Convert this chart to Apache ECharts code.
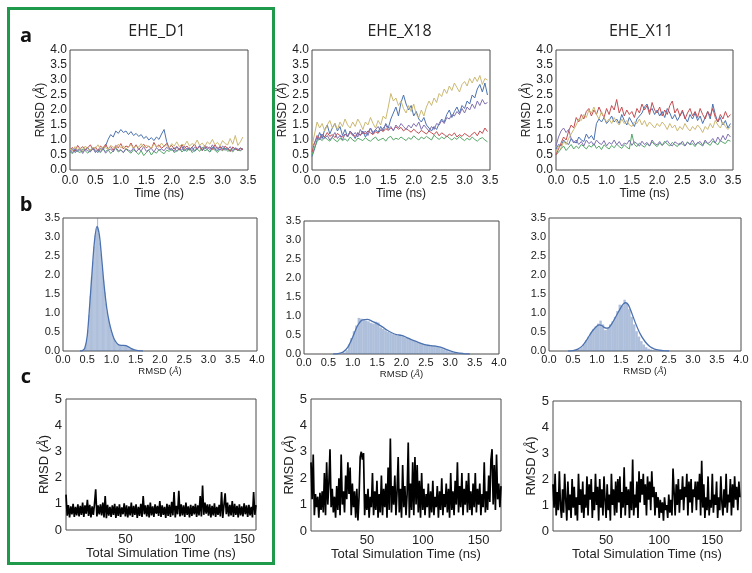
<!DOCTYPE html>
<html><head><meta charset="utf-8">
<script src="https://cdn.jsdelivr.net/npm/echarts@6/dist/echarts.min.js"></script>
<style>html,body{margin:0;padding:0;background:#fff}#c{width:752px;height:573px}</style>
</head><body><div id="c"></div>
<script>
// ---------- DATA ----------
const panelTitles = ['EHE_D1', 'EHE_X18', 'EHE_X11'];
const rowLetters = ['a', 'b', 'c'];
const cXTickLabels = [50, 100, 150];

// Row a: RMSD vs time (ns), five runs per system
const aTimes = [0,0.05,0.1,0.15,0.2,0.25,0.3,0.35,0.4,0.45,0.5,0.55,0.6,0.65,0.7,0.75,0.8,0.85,0.9,0.95,1,1.05,1.1,1.15,1.2,1.25,1.3,1.35,1.4,1.45,1.5,1.55,1.6,1.65,1.7,1.75,1.8,1.85,1.9,1.95,2,2.05,2.1,2.15,2.2,2.25,2.3,2.35,2.4,2.45,2.5,2.55,2.6,2.65,2.7,2.75,2.8,2.85,2.9,2.95,3,3.05,3.1,3.15,3.2,3.25,3.3,3.35,3.4,3.45];

const d1Blue = [0.62,0.70,0.58,0.66,0.72,0.60,0.68,0.74,0.63,0.70,
0.66,0.58,0.72,0.68,0.80,1.02,1.18,1.10,1.30,1.22,
1.35,1.25,1.30,1.18,1.28,1.15,1.22,1.12,1.18,1.05,
1.12,1.00,1.08,0.98,1.10,1.02,1.20,1.35,0.95,0.72,
0.66,0.74,0.62,0.70,0.78,0.64,0.72,0.66,0.76,0.62,
0.70,0.80,0.66,0.74,0.68,0.60,0.76,0.70,0.64,0.78,
0.72,0.66,0.74,0.62,0.76,0.70,0.66,0.74,0.68];
const d1Green = [0.60,0.55,0.68,0.62,0.58,0.70,0.64,0.56,0.66,0.72,
0.60,0.65,0.58,0.70,0.62,0.68,0.55,0.64,0.72,0.60,
0.66,0.58,0.70,0.62,0.56,0.68,0.60,0.52,0.64,0.48,
0.58,0.66,0.50,0.62,0.56,0.68,0.60,0.54,0.66,0.62,
0.70,0.58,0.64,0.72,0.60,0.68,0.62,0.74,0.58,0.66,
0.70,0.62,0.76,0.64,0.68,0.60,0.72,0.66,0.58,0.70,
0.64,0.74,0.62,0.68,0.60,0.72,0.66,0.64,0.70];
const d1Red = [0.68,0.75,0.62,0.82,0.70,0.78,0.66,0.74,0.84,0.68,
0.76,0.64,0.80,0.72,0.86,0.70,0.78,0.66,0.82,0.74,
0.88,0.70,0.80,0.76,0.90,0.72,0.84,0.68,0.78,0.86,
0.74,0.80,0.70,0.92,0.76,0.84,0.72,0.80,0.88,0.74,
0.82,0.70,0.78,0.66,0.84,0.72,0.80,0.68,0.76,0.86,
0.70,0.78,0.64,0.82,0.72,0.76,0.68,0.84,0.70,0.78,
0.66,0.80,0.72,0.62,0.76,0.70,0.66,0.72,0.68];
const d1Purple = [0.65,0.58,0.72,0.62,0.68,0.55,0.70,0.64,0.60,0.74,
0.58,0.68,0.62,0.72,0.56,0.66,0.70,0.60,0.76,0.64,
0.68,0.58,0.72,0.66,0.62,0.74,0.60,0.70,0.64,0.78,
0.62,0.68,0.72,0.60,0.74,0.66,0.70,0.64,0.76,0.68,
0.72,0.62,0.78,0.70,0.66,0.80,0.68,0.74,0.64,0.76,
0.70,0.82,0.66,0.74,0.78,0.68,0.84,0.72,0.76,0.66,
0.80,0.72,0.68,0.78,0.64,0.74,0.70,0.66,0.72];
const d1Yellow = [0.70,0.64,0.78,0.68,0.74,0.62,0.80,0.70,0.66,0.76,
0.72,0.84,0.68,0.78,0.74,0.70,0.82,0.76,0.72,0.86,
0.74,0.80,0.70,0.78,0.84,0.72,0.80,0.76,0.88,0.74,
0.82,0.78,0.72,0.86,0.80,0.76,0.90,0.78,0.84,0.74,
0.88,0.80,0.94,0.78,0.86,0.82,0.96,0.80,0.88,0.84,
1.00,0.82,0.90,0.78,0.94,0.86,1.02,0.84,0.92,0.80,
0.98,0.88,0.84,1.05,0.86,1.15,0.82,0.94,1.10];

const x18Blue = [0.45,0.70,1.00,1.25,1.05,1.35,1.50,1.20,1.40,1.55,
1.30,1.45,1.15,1.35,1.10,1.30,1.20,1.05,1.25,1.15,
1.30,1.10,1.25,1.40,1.20,1.35,1.25,1.45,1.30,1.55,
1.40,1.70,1.90,2.10,1.80,2.25,2.50,2.20,2.00,2.15,
1.80,1.95,1.70,1.60,1.75,1.50,1.40,1.30,1.45,1.35,
1.55,1.70,1.60,1.85,2.00,1.75,1.95,2.10,1.90,2.15,
2.05,2.30,2.20,2.50,2.40,2.70,2.85,2.60,2.90,2.50];
const x18Green = [0.50,0.75,0.95,1.05,0.98,1.10,1.02,0.96,1.08,1.00,
0.94,1.06,0.98,1.04,0.96,1.10,1.00,0.95,1.06,1.02,
0.98,1.08,1.00,0.96,1.04,1.10,0.98,1.02,1.06,0.96,
1.08,1.12,1.00,1.06,1.02,1.10,1.04,0.98,1.08,1.02,
1.14,1.06,1.00,1.10,1.04,1.12,1.06,1.00,1.16,1.08,
1.02,1.10,1.04,1.14,1.06,1.00,1.08,1.02,1.12,1.04,
0.98,1.06,1.00,1.10,1.02,0.96,1.04,1.08,1.00,0.94];
const x18Red = [0.60,0.90,1.15,1.05,1.20,1.10,1.25,1.12,1.18,1.08,
1.22,1.15,1.10,1.20,1.14,1.24,1.18,1.12,1.22,1.16,
1.26,1.20,1.30,1.24,1.18,1.28,1.22,1.34,1.28,1.38,
1.32,1.40,1.34,1.44,1.36,1.42,1.30,1.38,1.32,1.26,
1.36,1.28,1.22,1.32,1.26,1.20,1.30,1.24,1.18,1.28,
1.14,1.24,1.18,1.10,1.20,1.14,1.24,1.10,1.18,1.12,
1.22,1.16,1.10,1.20,1.26,1.14,1.30,1.22,1.40,1.28];
const x18Purple = [0.80,0.90,1.10,1.00,1.20,1.05,1.15,1.00,1.10,1.25,
1.05,1.15,1.00,1.20,1.10,1.30,1.15,1.25,1.10,1.35,
1.20,1.30,1.15,1.40,1.25,1.35,1.45,1.30,1.40,1.50,
1.35,1.45,1.30,1.50,1.40,1.55,1.45,1.35,1.50,1.40,
1.55,1.45,1.60,1.35,1.50,1.40,1.30,1.45,1.35,1.55,
1.50,1.65,1.55,1.75,1.70,1.85,1.80,1.95,1.85,2.05,
1.90,2.10,2.00,2.20,2.05,2.30,2.15,2.35,2.20,2.25];
const x18Yellow = [0.80,1.20,1.60,1.40,1.55,1.30,1.50,1.65,1.40,1.55,
1.35,1.60,1.45,1.70,1.50,1.40,1.60,1.45,1.70,1.55,
1.35,1.60,1.50,1.75,1.55,1.40,1.65,1.50,1.80,1.70,
2.10,2.55,2.30,2.40,2.15,2.30,2.05,1.90,2.15,1.95,
2.20,1.85,1.75,2.00,1.80,2.10,2.30,2.15,2.40,2.25,
2.55,2.45,2.70,2.55,2.80,2.65,2.90,2.75,2.60,2.85,
2.95,2.80,3.05,2.90,3.10,2.95,3.15,2.85,3.05,3.00];

const x11Blue = [0.70,0.85,0.80,1.00,0.90,0.85,1.05,0.95,0.90,1.10,
1.00,0.95,1.20,1.05,1.15,1.00,1.55,1.70,1.60,1.75,
1.55,1.65,1.80,1.60,1.70,1.55,1.85,1.65,1.50,1.75,
1.60,1.45,1.70,1.80,1.90,2.10,2.20,1.95,2.05,1.85,
2.00,1.80,1.95,1.75,2.05,1.90,1.70,1.85,1.65,1.80,
1.95,1.75,1.60,1.85,1.70,1.90,1.65,1.80,1.55,1.75,
1.95,1.70,2.20,1.85,1.60,1.75,1.50,1.65,1.40,1.55];
const x11Green = [0.50,0.60,0.70,0.80,0.65,0.75,0.85,0.70,0.80,0.72,
0.85,0.78,0.70,0.82,0.76,0.88,0.72,0.80,0.68,0.84,
0.76,0.70,0.82,0.74,0.86,0.78,0.72,0.84,0.76,0.70,
1.20,0.85,0.78,0.90,0.82,0.76,0.88,0.80,0.94,0.84,
0.78,0.90,0.82,0.96,0.86,0.80,0.92,0.84,0.78,0.90,
0.86,0.80,0.94,0.84,0.88,0.78,0.92,0.86,0.80,0.94,
0.88,0.82,0.96,0.90,0.84,0.98,0.92,0.88,1.00,0.96];
const x11Red = [0.50,0.70,0.90,1.10,1.00,1.30,1.50,1.40,1.75,1.60,
1.85,1.70,1.95,2.05,1.80,2.00,1.85,2.10,1.90,1.75,
2.05,1.85,2.15,2.00,2.35,1.90,2.10,1.80,2.00,1.85,
1.95,1.75,2.05,1.90,2.20,2.00,2.15,1.85,2.25,2.00,
1.90,2.10,1.80,2.00,1.85,2.15,2.30,1.90,2.05,1.80,
2.00,1.70,1.90,2.05,1.80,1.95,1.75,2.05,1.85,1.70,
1.95,1.80,2.05,1.75,1.60,1.85,1.70,1.95,1.75,1.85];
const x11Purple = [0.80,1.10,1.30,1.40,1.25,1.35,1.05,0.90,1.00,0.85,
0.95,0.80,1.00,0.88,0.95,0.82,1.00,0.90,0.85,0.98,
0.80,0.92,0.86,1.00,0.84,0.95,0.80,0.90,0.86,1.00,
0.82,0.94,0.88,0.80,0.96,0.85,0.92,0.80,1.00,0.88,
0.84,0.95,0.82,0.90,0.98,0.86,0.80,0.94,0.88,0.84,
0.96,0.80,0.92,0.86,1.00,0.84,0.90,0.95,0.82,1.00,
0.88,0.94,1.05,0.90,1.10,0.96,1.15,1.00,1.20,1.10];
const x11Yellow = [0.60,0.80,0.70,0.95,0.85,1.05,1.20,1.35,1.50,1.70,
1.65,1.85,1.75,2.00,1.90,2.10,1.85,1.70,1.95,1.75,
1.60,1.70,1.55,1.75,1.60,1.50,1.70,1.55,1.65,1.50,
1.45,1.60,1.55,1.70,1.50,1.65,1.45,1.60,1.50,1.40,
1.55,1.45,1.60,1.50,1.35,1.55,1.40,1.50,1.30,1.45,
1.35,1.55,1.40,1.30,1.45,1.35,1.50,1.40,1.25,1.45,
1.35,1.55,1.40,1.65,1.50,1.40,1.60,1.45,1.35,1.45];

// Row b: RMSD distributions (histogram bins + KDE)
const b1BinCenters = [0.4125,0.4375,0.4625,0.4875,0.5125,0.5375,0.5625,0.5875,0.6125,0.6375,0.6625,0.6875,0.7125,0.7375,0.7625,0.7875,0.8125,0.8375,0.8625,0.8875,0.9125,0.9375,0.9625,0.9875,1.0125,1.0375,1.0625,1.0875,1.1125,1.1375,1.1625,1.1875,1.2125,1.2375,1.2625,1.2875,1.3125,1.3375,1.3625,1.3875,1.4125,1.4375,1.4625,1.4875,1.5125];
const b1Density = [0.02,0.05,0.12,0.30,0.55,0.95,1.45,1.95,2.35,2.75,3.05,3.25,3.50,3.10,2.85,2.55,2.20,1.85,1.55,1.25,1.02,0.85,0.70,0.55,0.45,0.36,0.28,0.22,0.18,0.16,0.15,0.16,0.15,0.16,0.15,0.14,0.13,0.11,0.09,0.07,0.05,0.04,0.03,0.02,0.01];
const b1KdeX = [0.35,0.40,0.45,0.50,0.55,0.60,0.65,0.70,0.75,0.80,0.85,0.90,0.95,1.00,1.05,1.10,1.15,1.20,1.25,1.30,1.35,1.40,1.45,1.50,1.55,1.60,1.65];
const b1KdeY = [0,0.01,0.08,0.40,1.20,2.10,2.90,3.28,3.05,2.40,1.70,1.15,0.78,0.52,0.33,0.22,0.16,0.15,0.15,0.14,0.11,0.07,0.04,0.02,0.01,0.005,0];

const b2BinCenters = [0.825,0.875,0.925,0.975,1.025,1.075,1.125,1.175,1.225,1.275,1.325,1.375,1.425,1.475,1.525,1.575,1.625,1.675,1.725,1.775,1.825,1.875,1.925,1.975,2.025,2.075,2.125,2.175,2.225,2.275,2.325,2.375,2.425,2.475,2.525,2.575,2.625,2.675,2.725,2.775,2.825,2.875,2.925,2.975,3.025,3.075,3.125,3.175];
const b2Density = [0.04,0.10,0.25,0.42,0.60,0.75,0.95,0.93,0.90,0.88,0.86,0.82,0.80,0.85,0.83,0.70,0.66,0.62,0.58,0.55,0.52,0.50,0.48,0.50,0.47,0.44,0.42,0.40,0.36,0.34,0.31,0.29,0.27,0.25,0.23,0.22,0.21,0.22,0.20,0.18,0.15,0.12,0.10,0.07,0.05,0.03,0.02,0.01];
const b2KdeX = [0.6,0.7,0.8,0.9,1.0,1.1,1.2,1.3,1.4,1.5,1.6,1.7,1.8,1.9,2.0,2.1,2.2,2.3,2.4,2.5,2.6,2.7,2.8,2.9,3.0,3.1,3.2,3.3,3.4];
const b2KdeY = [0,0.01,0.05,0.18,0.45,0.75,0.90,0.91,0.86,0.80,0.72,0.63,0.56,0.51,0.49,0.44,0.38,0.33,0.28,0.24,0.22,0.21,0.18,0.13,0.08,0.04,0.02,0.005,0];

const b3BinCenters = [0.575,0.625,0.675,0.725,0.775,0.825,0.875,0.925,0.975,1.025,1.075,1.125,1.175,1.225,1.275,1.325,1.375,1.425,1.475,1.525,1.575,1.625,1.675,1.725,1.775,1.825,1.875,1.925,1.975,2.025,2.075,2.125,2.175,2.225,2.275,2.325];
const b3Density = [0.02,0.05,0.10,0.18,0.28,0.38,0.48,0.58,0.65,0.72,0.80,0.70,0.55,0.62,0.70,0.78,0.90,1.05,1.22,1.20,1.35,1.25,1.10,0.90,0.70,0.52,0.38,0.26,0.17,0.10,0.06,0.04,0.02,0.01,0.01,0.005];
const b3KdeX = [0.4,0.5,0.6,0.7,0.8,0.9,1.0,1.05,1.1,1.15,1.2,1.25,1.3,1.4,1.5,1.55,1.6,1.65,1.7,1.8,1.9,2.0,2.1,2.2,2.3,2.4,2.5];
const b3KdeY = [0,0.01,0.05,0.14,0.32,0.52,0.66,0.69,0.67,0.62,0.60,0.62,0.70,0.92,1.15,1.24,1.27,1.22,1.08,0.74,0.45,0.25,0.12,0.05,0.02,0.005,0];

// Row c: RMSD over the concatenated simulation (ns)
const cTimes = [0,1,2,3,4,5,6,7,8,9,10,11,12,13,14,15,16,17,18,19,20,21,22,23,24,25,26,27,28,29,30,31,32,33,34,35,36,37,38,39,40,41,42,43,44,45,46,47,48,49,50,51,52,53,54,55,56,57,58,59,60,61,62,63,64,65,66,67,68,69,70,71,72,73,74,75,76,77,78,79,80,81,82,83,84,85,86,87,88,89,90,91,92,93,94,95,96,97,98,99,100,101,102,103,104,105,106,107,108,109,110,111,112,113,114,115,116,117,118,119,120,121,122,123,124,125,126,127,128,129,130,131,132,133,134,135,136,137,138,139,140,141,142,143,144,145,146,147,148,149,150,151,152,153,154,155,156,157,158,159,160,161,162,163,164,165,166,167,168,169,170,171,172,173,174,175,176];
const c1Rmsd = [1.35,0.55,0.95,0.48,0.90,0.60,1.00,0.50,0.88,0.56,
0.98,0.52,0.92,0.58,1.05,0.50,0.94,0.62,1.15,0.54,
0.96,0.48,0.90,0.58,1.00,1.55,0.52,0.94,0.60,0.98,
0.56,1.05,0.48,1.30,0.45,0.96,0.55,0.88,0.50,0.94,
0.58,1.00,0.46,0.90,0.54,0.98,0.50,0.86,0.60,1.02,
0.52,0.94,0.48,0.90,0.56,1.05,0.50,0.92,0.58,0.98,
0.46,0.88,0.54,1.00,0.50,1.30,0.60,0.94,0.52,0.96,
0.48,1.05,0.56,0.90,0.50,0.98,0.62,0.92,0.54,1.10,
0.50,0.94,0.58,0.88,0.46,1.00,0.54,0.96,0.50,1.08,
0.56,1.45,0.48,0.92,0.60,1.50,0.52,0.98,0.56,0.94,
0.50,1.05,0.58,0.90,0.48,0.96,0.54,0.92,0.60,1.00,
0.50,0.94,0.56,1.30,0.52,1.70,0.58,1.05,0.62,0.98,
0.55,0.98,0.48,0.92,0.56,1.02,0.50,0.88,0.58,0.96,
0.52,1.45,0.46,0.94,1.40,0.60,1.05,0.52,0.96,0.56,
1.10,0.50,1.00,0.58,0.92,0.48,0.98,0.56,0.90,0.52,
1.02,0.60,0.94,0.50,0.96,0.56,0.88,0.48,1.45,0.58,
0.95];
const c2Rmsd = [2.60,1.20,2.90,0.60,1.40,0.90,1.30,0.50,1.45,0.80,
1.50,0.70,2.20,0.60,2.60,1.00,1.80,3.10,0.90,1.60,
0.70,1.30,0.50,1.70,0.80,2.00,0.60,2.90,1.00,1.50,
0.70,2.10,1.20,2.60,1.40,2.40,0.60,1.80,0.90,1.50,
0.50,1.60,0.40,1.30,2.80,3.00,2.70,2.95,0.60,1.40,
0.80,1.60,0.50,1.30,0.90,2.20,0.60,1.50,0.80,1.90,
0.50,1.40,0.70,2.10,0.60,1.60,0.90,1.80,0.50,2.40,
0.80,3.50,0.70,1.70,1.00,2.10,0.60,1.50,2.80,0.70,
1.60,0.50,2.50,0.90,1.70,0.60,1.40,3.35,0.50,1.80,
0.80,2.60,0.60,2.80,1.00,2.50,0.70,1.90,0.50,2.20,
0.80,1.60,0.60,1.40,0.90,1.80,0.50,1.50,0.70,1.90,
0.60,1.30,0.90,1.70,0.50,1.50,0.80,2.00,0.60,1.40,
0.90,1.80,0.70,1.60,0.50,2.20,0.80,1.50,0.60,1.90,
1.00,2.60,0.70,1.70,0.90,2.20,0.60,1.60,1.00,1.90,
0.70,2.20,0.80,1.50,0.60,1.80,0.90,2.20,0.70,1.60,
1.00,1.80,0.60,1.40,0.90,2.60,0.70,1.50,0.80,2.10,
1.10,2.70,3.10,1.00,2.50,0.80,2.90,1.20,1.80,0.90,
1.70];
const c3Rmsd = [1.80,0.90,2.20,0.60,1.50,0.80,2.30,1.00,0.50,1.60,
0.70,2.20,1.20,0.40,1.90,0.80,1.40,0.50,2.00,0.90,
1.70,0.60,1.30,0.40,2.20,1.00,1.60,0.70,1.90,0.50,
1.40,0.90,2.10,0.60,1.80,1.20,2.00,0.50,1.50,0.80,
2.20,1.00,1.70,0.40,2.00,0.90,1.60,0.60,2.10,1.20,
0.50,1.80,0.80,1.40,0.40,2.20,1.00,1.60,0.60,1.90,
0.70,2.00,1.10,2.10,0.50,1.50,0.90,2.45,0.60,1.70,
1.00,1.60,0.50,1.90,0.80,2.75,0.60,1.40,0.90,1.90,
0.50,2.30,1.10,2.00,1.40,2.20,1.00,1.80,0.60,2.10,
1.20,1.90,0.80,2.30,1.30,1.70,0.60,1.50,0.90,1.30,
0.50,1.20,0.70,1.10,0.40,1.30,0.80,1.00,0.50,1.40,
0.70,1.20,0.60,2.40,1.50,0.60,1.80,1.00,2.00,0.70,
1.60,1.20,2.10,0.80,1.70,1.30,2.20,0.60,1.90,1.10,
2.00,0.70,1.60,1.30,1.90,0.80,1.90,1.20,2.20,0.60,
2.70,0.90,1.80,0.50,1.30,0.80,2.10,0.60,1.20,0.90,
2.20,0.70,1.40,1.00,1.90,0.50,1.30,0.80,2.10,1.10,
0.60,1.60,0.90,2.20,0.70,1.40,1.10,2.00,0.60,1.80,
0.90,2.10,1.20,1.70,0.80,1.90,1.30];

// ---------- CHART ----------
const runColors = ['#4C72B0', '#55A868', '#C44E52', '#8172B2', '#CCB974'];
const aRuns = [
  [d1Blue, d1Green, d1Red, d1Purple, d1Yellow],
  [x18Blue, x18Green, x18Red, x18Purple, x18Yellow],
  [x11Blue, x11Green, x11Red, x11Purple, x11Yellow]
];
const bHist = [[b1BinCenters, b1Density, b1KdeX, b1KdeY],[b2BinCenters, b2Density, b2KdeX, b2KdeY],[b3BinCenters, b3Density, b3KdeX, b3KdeY]];
const cRuns = [c1Rmsd, c2Rmsd, c3Rmsd];
const cXMax = [160, 170, 177];

function zip(xs, ys) {
  const n = Math.min(xs.length, ys.length), out = [];
  for (let i = 0; i < n; i++) out.push([xs[i], ys[i]]);
  return out;
}

const F = '"Liberation Sans", Arial, Helvetica, sans-serif';
const TXT = '#222';
const gridBoxes = [
  {left:70, top:50, width:178, height:120},
  {left:312, top:50, width:178, height:120},
  {left:556, top:50, width:177, height:120},
  {left:63, top:218, width:194, height:133},
  {left:304, top:221, width:195, height:133},
  {left:549, top:218, width:192, height:133},
  {left:66, top:399, width:190, height:131},
  {left:311, top:399, width:190, height:132},
  {left:553, top:401, width:188, height:130}
];
const grid = gridBoxes.map(g => Object.assign({show:true, borderColor:'#4a4a4a', borderWidth:1, backgroundColor:'#fff'}, g));

const rmsdName = 'RMSD ({i|Å})';
function nameStyle(fs) {
  return {fontSize:fs, fontFamily:F, color:TXT, rich:{i:{fontStyle:'italic', fontSize:fs, fontFamily:F, color:TXT}}};
}
const common = {axisLine:{show:false}, axisTick:{show:false}, splitLine:{show:false}};
const xAxis = [], yAxis = [];
for (let p = 0; p < 3; p++) {
  xAxis.push(Object.assign({type:'value', gridIndex:p, min:0, max:3.5, interval:0.5,
    axisLabel:{formatter:v=>v.toFixed(1), fontSize:12, fontFamily:F, color:TXT, margin:5},
    name:'Time (ns)', nameLocation:'middle', nameGap:17, nameTextStyle:{fontSize:12, fontFamily:F, color:TXT}}, common));
  yAxis.push(Object.assign({type:'value', gridIndex:p, min:0, max:4, interval:0.5,
    axisLabel:{formatter:v=>v.toFixed(1), fontSize:12, fontFamily:F, color:TXT, margin:3},
    name:rmsdName, nameLocation:'middle', nameGap:21, nameTextStyle:nameStyle(12)}, common));
}
for (let p = 0; p < 3; p++) {
  xAxis.push(Object.assign({type:'value', gridIndex:3+p, min:0, max:4, interval:0.5,
    axisLabel:{formatter:v=>v.toFixed(1), fontSize:11, fontFamily:F, color:TXT, margin:3},
    name:rmsdName, nameLocation:'middle', nameGap:14, nameTextStyle:nameStyle(9.5)}, common));
  yAxis.push(Object.assign({type:'value', gridIndex:3+p, min:0, max:3.5, interval:0.5,
    axisLabel:{formatter:v=>v.toFixed(1), fontSize:11, fontFamily:F, color:TXT, margin:3}}, common));
}
for (let p = 0; p < 3; p++) {
  xAxis.push(Object.assign({type:'value', gridIndex:6+p, min:0, max:cXMax[p], interval:50,
    axisLabel:{formatter:v=>cXTickLabels.includes(v) ? String(v) : '', fontSize:13, fontFamily:F, color:TXT, margin:3},
    name:'Total Simulation Time (ns)', nameLocation:'middle', nameGap:17, nameTextStyle:{fontSize:13, fontFamily:F, color:TXT}}, common));
  yAxis.push(Object.assign({type:'value', gridIndex:6+p, min:0, max:5, interval:1,
    axisLabel:{fontSize:13, fontFamily:F, color:TXT, margin:4},
    name:rmsdName, nameLocation:'middle', nameGap:11, nameTextStyle:nameStyle(13)}, common));
}

const series = [];
aRuns.forEach((runs, p) => {
  runs.forEach((arr, k) => {
    series.push({type:'line', xAxisIndex:p, yAxisIndex:p, data:zip(aTimes, arr), symbol:'none',
      lineStyle:{width:1, color:runColors[k]}, itemStyle:{color:runColors[k]}, silent:true});
  });
});
bHist.forEach((h, p) => {
  const g = gridBoxes[3+p];
  const binW = h[0][1] - h[0][0];
  series.push({type:'bar', xAxisIndex:3+p, yAxisIndex:3+p, data:zip(h[0], h[1]),
    barWidth: g.width / 4 * binW, itemStyle:{color:'rgba(76,114,176,0.45)'}, silent:true});
  series.push({type:'line', xAxisIndex:3+p, yAxisIndex:3+p, data:zip(h[2], h[3]), symbol:'none', smooth:0.3,
    lineStyle:{width:1.3, color:'#4C72B0'}, silent:true});
});
cRuns.forEach((arr, p) => {
  series.push({type:'line', xAxisIndex:6+p, yAxisIndex:6+p, data:zip(cTimes, arr), symbol:'none',
    lineStyle:{width:1.7, color:'#000', join:'miter', miterLimit:2}, silent:true});
});

const titleX = [157, 399.5, 641];
const letterY = [36, 205, 377];
const graphic = [
  {type:'rect', shape:{x:8.5, y:8.5, width:265, height:555}, style:{fill:'none', stroke:'#1f9a4b', lineWidth:3}, z:100, silent:true}
];
panelTitles.forEach((t, i) => graphic.push({type:'text', x:titleX[i], y:31,
  style:{text:t, fontSize:16, fontFamily:'"Open Sans", "Noto Sans", sans-serif', fill:'#222', align:'center', verticalAlign:'middle'}}));
rowLetters.forEach((t, i) => graphic.push({type:'text', x:26, y:letterY[i],
  style:{text:t, fontSize:20, fontWeight:'bold', fontFamily:'"Open Sans", "Noto Sans", sans-serif', fill:'#111', align:'center', verticalAlign:'middle'}}));

const chart = echarts.init(document.getElementById('c'), null, {renderer:'canvas'});
chart.setOption({animation:false, backgroundColor:'#fff', grid, xAxis, yAxis, series, graphic});
</script></body></html>
